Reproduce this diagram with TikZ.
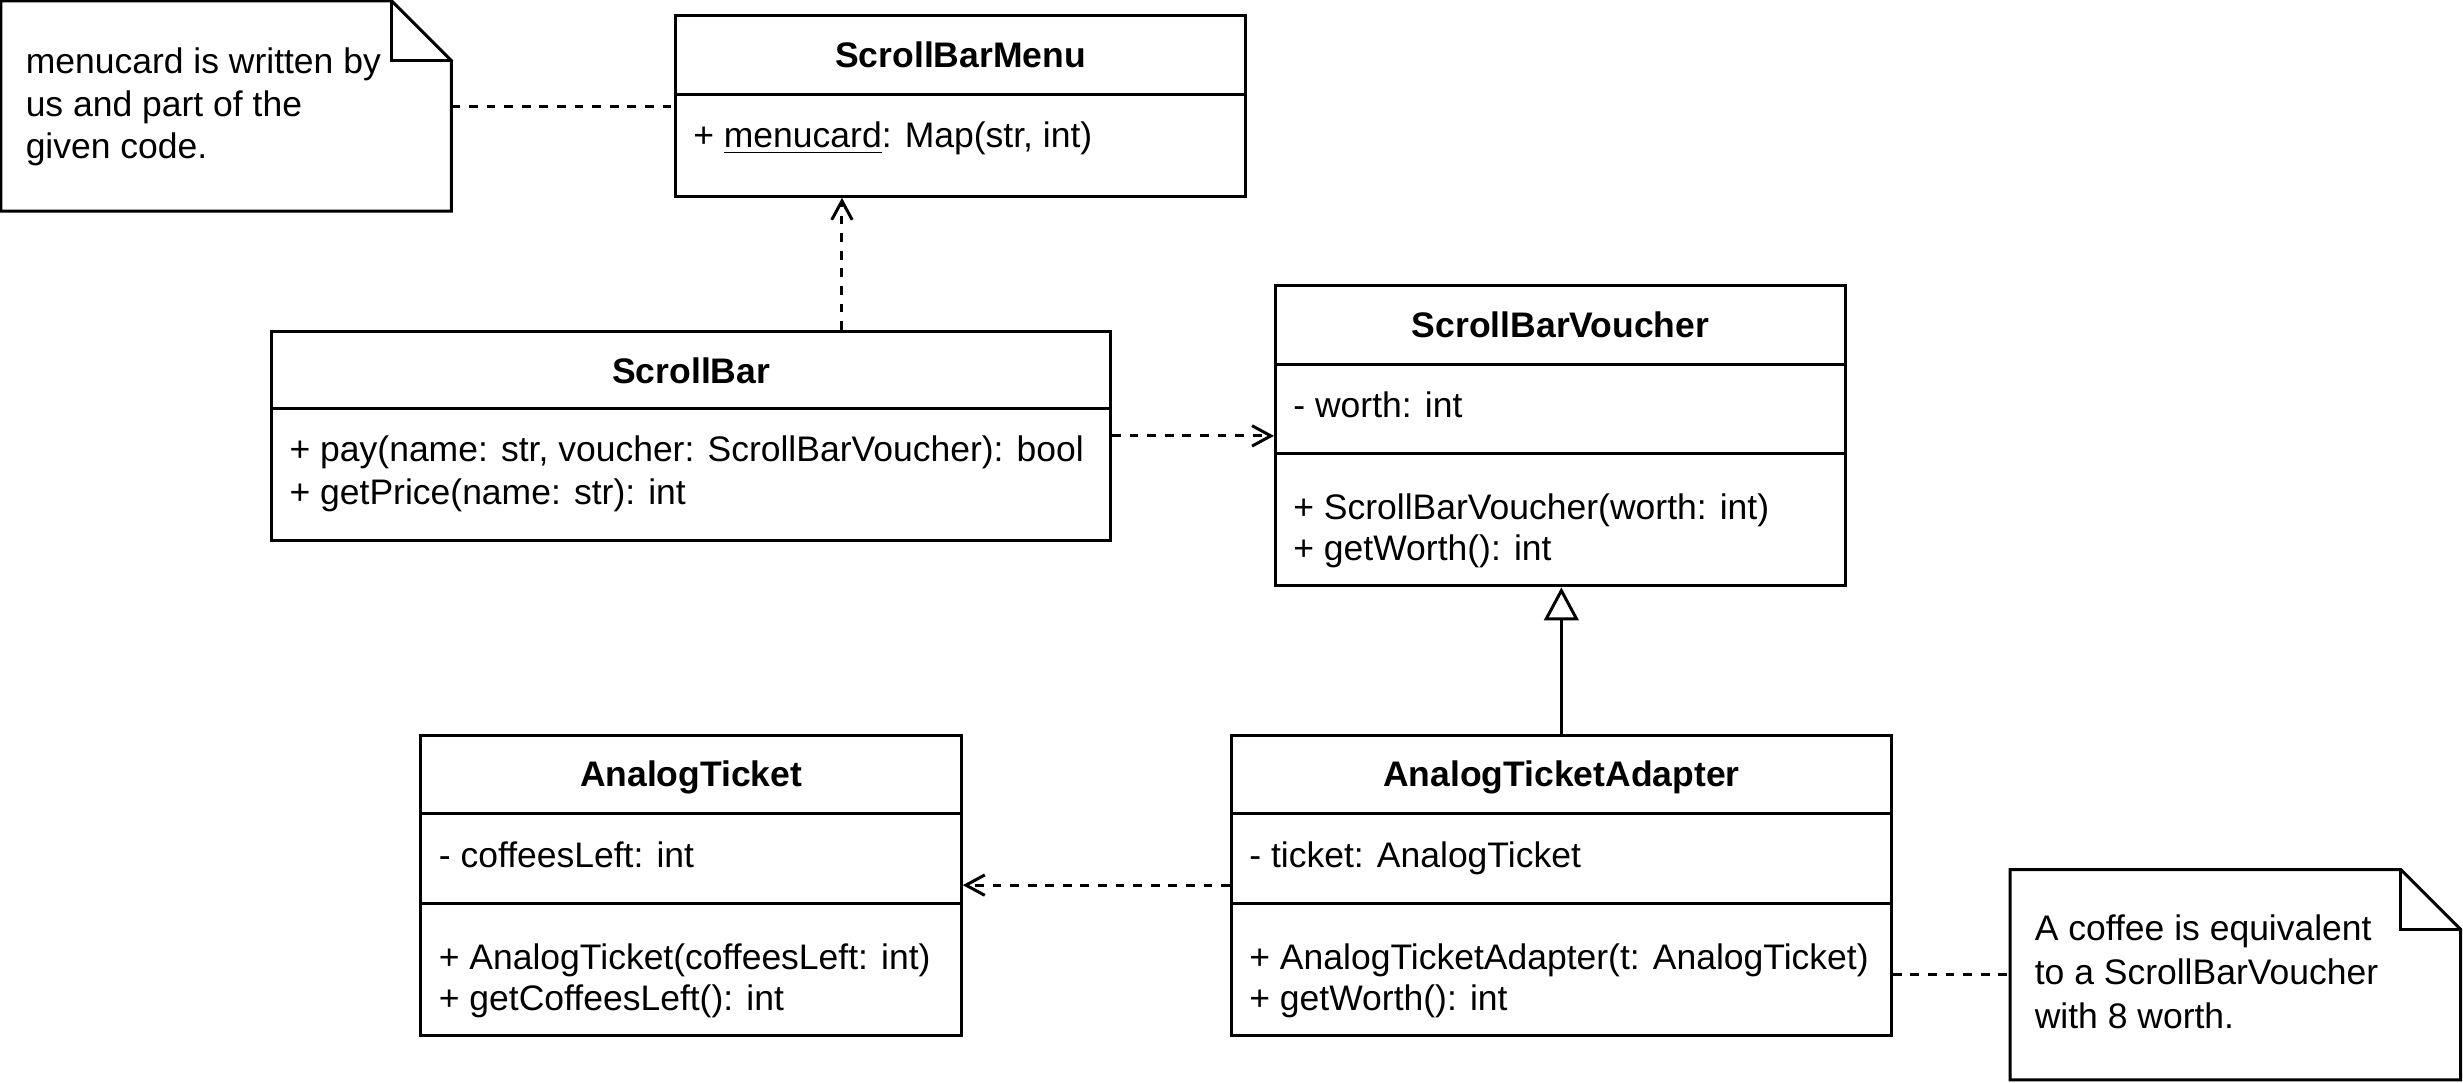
\documentclass[tikz,border=0pt]{standalone}
\usepackage{fontspec}
\setmainfont{Liberation Sans}
\usetikzlibrary{arrows.meta,fit}
\begin{document}
\begin{tikzpicture}[x=0.5pt,y=-0.5pt,
  every node/.style={font=\fontsize{11.3}{13.5}\selectfont},
  box/.style={draw, line width=0.95pt, inner sep=0pt},
  area/.style={inner sep=0pt},
  ln/.style={line width=0.95pt},
  title/.style={font=\fontsize{11.3}{13.5}\selectfont\bfseries, anchor=base, inner sep=0pt},
  member/.style={anchor=base west, inner sep=0pt},
  link/.style={line width=0.95pt, dash pattern=on 2.8pt off 2.8pt},
  dep/.style={link, -{Straight Barb[length=6pt,width=6.5pt]}},
  inh/.style={line width=0.95pt, -{Triangle[length=10.5pt,width=11pt,fill=white]}}
]
\useasboundingbox (0,0) rectangle (1568,689);

% ---- Note 1
\node[area, fit={(1,1) (287,134)}] (n1) {};
\draw[ln, line join=miter] (n1.north west) -- ([xshift=-19pt]n1.north east) -- ([yshift=-19pt]n1.north east) -- (n1.south east) -- (n1.south west) -- cycle;
\draw[ln] ([xshift=-19pt]n1.north east) -- ([xshift=-19pt,yshift=-19pt]n1.north east) -- ([yshift=-19pt]n1.north east);
\node[member] (n1a) at (16,47) {menucard is written by};
\node[member] (n1b) at (16,74) {us and part of the};
\node[member] (n1c) at (16,101) {given code.};

% ---- ScrollBarMenu
\node[box, fit={(430,10) (793,125)}] (sbm) {};
\draw[ln] (sbm.west |- 0,60) -- (sbm.east |- 0,60);
\node[title] (sbmt) at (611.5,43) {ScrollBarMenu};
\node[member] (sbma) at (441,94) {+ \underline{menucard}: Map(str, int)};

% ---- ScrollBar
\node[box, fit={(173,211) (707,344)}] (sb) {};
\draw[ln] (sb.west |- 0,260) -- (sb.east |- 0,260);
\node[title] (sbt) at (440,244) {ScrollBar};
\node[member] (sbm1) at (184,294) {+ pay(name: str, voucher: ScrollBarVoucher): bool};
\node[member] (sbm2) at (184,321) {+ getPrice(name: str): int};

% ---- ScrollBarVoucher
\node[box, fit={(812,182) (1175,373)}] (sbv) {};
\draw[ln] (sbv.west |- 0,232) -- (sbv.east |- 0,232);
\draw[ln] (sbv.west |- 0,289) -- (sbv.east |- 0,289);
\node[title] (sbvt) at (993.5,215) {ScrollBarVoucher};
\node[member] (sbva) at (823,266) {- worth: int};
\node[member] (sbvm1) at (823,331) {+ ScrollBarVoucher(worth: int)};
\node[member] (sbvm2) at (823,357) {+ getWorth(): int};

% ---- AnalogTicket
\node[box, fit={(268,468) (612,659)}] (at) {};
\draw[ln] (at.west |- 0,518) -- (at.east |- 0,518);
\draw[ln] (at.west |- 0,575) -- (at.east |- 0,575);
\node[title] (att) at (440,501) {AnalogTicket};
\node[member] (ata) at (279,552) {- coffeesLeft: int};
\node[member] (atm1) at (279,617) {+ AnalogTicket(coffeesLeft: int)};
\node[member] (atm2) at (279,643) {+ getCoffeesLeft(): int};

% ---- AnalogTicketAdapter
\node[box, fit={(784,468) (1204,659)}] (ad) {};
\draw[ln] (ad.west |- 0,518) -- (ad.east |- 0,518);
\draw[ln] (ad.west |- 0,575) -- (ad.east |- 0,575);
\node[title] (adt) at (994,501) {AnalogTicketAdapter};
\node[member] (ada) at (795,552) {- ticket: AnalogTicket};
\node[member] (adm1) at (795,617) {+ AnalogTicketAdapter(t: AnalogTicket)};
\node[member] (adm2) at (795,643) {+ getWorth(): int};

% ---- Note 2
\node[area, fit={(1280,554) (1566,687)}] (n2) {};
\draw[ln, line join=miter] (n2.north west) -- ([xshift=-19pt]n2.north east) -- ([yshift=-19pt]n2.north east) -- (n2.south east) -- (n2.south west) -- cycle;
\draw[ln] ([xshift=-19pt]n2.north east) -- ([xshift=-19pt,yshift=-19pt]n2.north east) -- ([yshift=-19pt]n2.north east);
\node[member] (n2a) at (1295,599) {A coffee is equivalent};
\node[member] (n2b) at (1295,627) {to a ScrollBarVoucher};
\node[member] (n2c) at (1295,655) {with 8 worth.};

% ---- Connectors
\draw[link] (n1.east) -- (sbm.west);
\draw[dep] (sb.north -| 536,0) -- (sbm.south -| 536,0);
\draw[dep] (sb.east) -- (sbv.west |- sb.east);
\draw[inh] (ad.north) -- (ad.north |- sbv.south);
\draw[dep] (ad.west) -- (at.east);
\draw[link] (ad.east |- n2.west) -- (n2.west);
\end{tikzpicture}
\end{document}
